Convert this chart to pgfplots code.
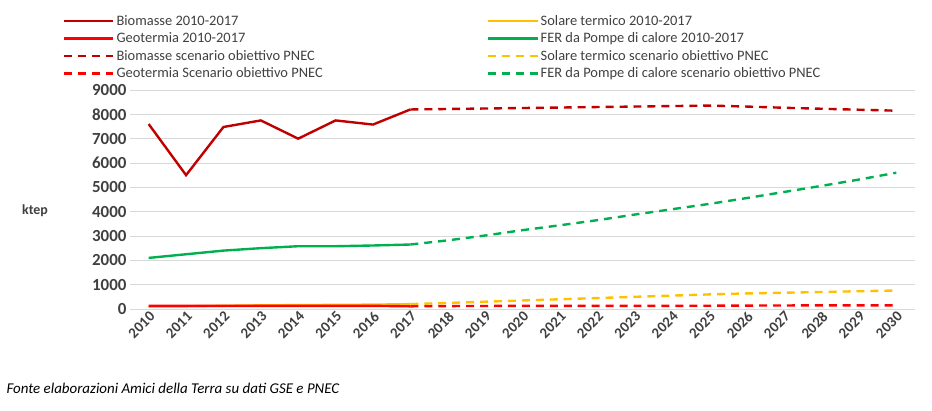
\documentclass[border=0pt]{standalone}
\usepackage{pgfplots}
\pgfplotsset{compat=1.18}
\usepackage{fontspec}
\setmainfont{Carlito}
\definecolor{bio}{HTML}{C00000}
\definecolor{geo}{HTML}{FF0000}
\definecolor{sol}{HTML}{FFC000}
\definecolor{fer}{HTML}{00B050}
\begin{document}
\begin{tikzpicture}
\path[use as bounding box] (-130bp,-102bp) rectangle (802bp,309bp);
\begin{axis}[
 scale only axis, width=785bp, height=219bp,
 xmin=2009.5, xmax=2030.5, ymin=0, ymax=9000,
 xtick={2010,...,2030}, ytick={0,1000,...,9000},
 xticklabel style={rotate=45, anchor=north east, inner sep=1pt, font=\bfseries\fontsize{15}{15}\selectfont, text=black!75},
 yticklabel style={font=\bfseries\fontsize{17}{17}\selectfont, text=black!75},
 /pgf/number format/assume math mode=true,
 /pgf/number format/1000 sep={},
 ymajorgrids, grid style={black!15},
 axis line style={draw=none}, tick style={draw=none},
 ylabel={\bfseries ktep}, ylabel style={rotate=-90, font=\fontsize{14}{14}\selectfont, at={(axis description cs:-0.1,0.45)}, text=black!75},
 legend columns=2,
 legend style={at={(-0.09,1.03)}, anchor=south west, draw=none, fill=none,
   font=\fontsize{14.5}{15}\selectfont, text=black!75, row sep=2pt,
   /tikz/every even column/.append style={column sep=162bp}},
 legend cell align=left,
 legend image code/.code={\draw[#1] (0cm,0cm) -- (1.75cm,0cm);},
]
\addplot[bio, line width=2.4pt] coordinates {(2010,7600)(2011,5500)(2012,7480)(2013,7750)(2014,7000)(2015,7750)(2016,7580)(2017,8200)};
\addlegendentry{Biomasse 2010-2017}
\addplot[sol, line width=2.4pt] coordinates {(2010,100)(2011,110)(2012,130)(2013,150)(2014,160)(2015,170)(2016,180)(2017,200)};
\addlegendentry{Solare termico 2010-2017}
\addplot[geo, line width=2.4pt] coordinates {(2010,130)(2011,130)(2012,130)(2013,130)(2014,130)(2015,130)(2016,130)(2017,110)};
\addlegendentry{Geotermia 2010-2017}
\addplot[fer, line width=2.4pt] coordinates {(2010,2100)(2011,2250)(2012,2400)(2013,2500)(2014,2580)(2015,2580)(2016,2610)(2017,2650)};
\addlegendentry{FER da Pompe di calore 2010-2017}
\addplot[bio, line width=2.4pt, dash pattern=on 8pt off 6pt] coordinates {(2017,8200)(2018,8220)(2019,8240)(2020,8260)(2021,8280)(2022,8300)(2023,8320)(2024,8340)(2025,8360)(2026,8320)(2027,8270)(2028,8230)(2029,8190)(2030,8150)};
\addlegendentry{Biomasse scenario obiettivo PNEC}
\addplot[sol, line width=2.4pt, dash pattern=on 8pt off 6pt] coordinates {(2017,200)(2018,250)(2019,300)(2020,350)(2021,400)(2022,450)(2023,500)(2024,550)(2025,600)(2026,640)(2027,670)(2028,700)(2029,730)(2030,760)};
\addlegendentry{Solare termico scenario obiettivo PNEC}
\addplot[geo, line width=2.4pt, dash pattern=on 8pt off 6pt] coordinates {(2017,110)(2018,120)(2019,125)(2020,130)(2021,130)(2022,130)(2023,130)(2024,130)(2025,135)(2026,140)(2027,145)(2028,150)(2029,150)(2030,150)};
\addlegendentry{Geotermia Scenario obiettivo PNEC}
\addplot[fer, line width=2.4pt, dash pattern=on 8pt off 6pt] coordinates {(2017,2650)(2018,2820)(2019,3020)(2020,3240)(2021,3440)(2022,3650)(2023,3880)(2024,4100)(2025,4320)(2026,4560)(2027,4810)(2028,5060)(2029,5320)(2030,5600)};
\addlegendentry{FER da Pompe di calore scenario obiettivo PNEC}
\end{axis}
\node[anchor=west, font=\itshape\fontsize{15}{15}\selectfont] at (-127bp,-79bp) {Fonte elaborazioni Amici della Terra su dati GSE e PNEC};
\end{tikzpicture}
\end{document}
